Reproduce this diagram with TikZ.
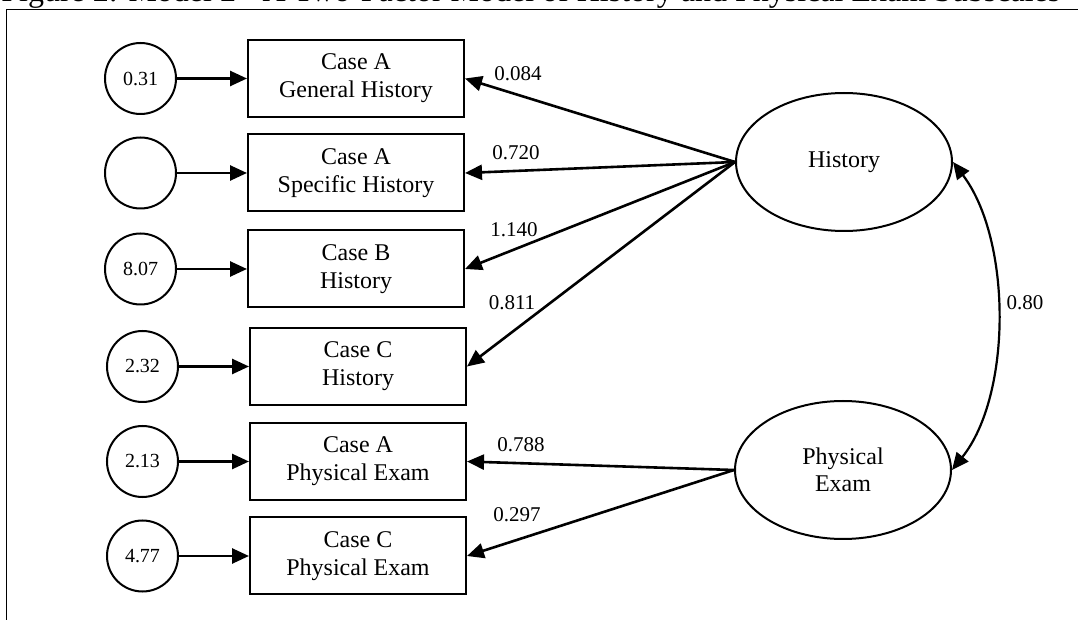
\documentclass[tikz,border=0pt]{standalone}
\usepackage{fontspec}
\setmainfont{Liberation Serif}
\usetikzlibrary{shapes.geometric,arrows.meta,positioning}

\begin{document}
\begin{tikzpicture}[
    x=0.5pt, y=-0.5pt,
    node distance=35pt,
    indbox/.style={rectangle, draw, line width=1pt, minimum width=108pt,
                   minimum height=38.5pt, align=center,
                   font=\fontsize{12}{14}\selectfont},
    errc/.style={circle, draw, line width=1pt, minimum size=35.5pt,
                 inner sep=0pt, font=\fontsize{10}{12}\selectfont},
    factor/.style={ellipse, draw, line width=1pt, minimum width=108pt,
                   minimum height=69pt, align=center,
                   font=\fontsize{12}{13.5}\selectfont},
    load/.style={line width=1.3pt, -{Triangle[length=8.5pt,width=7.5pt]}},
    cov/.style={line width=1.1pt, {Triangle[length=8.5pt,width=7.5pt]}-{Triangle[length=8.5pt,width=7.5pt]}},
    coef/.style={font=\fontsize{10.5}{12}\selectfont, inner sep=1pt},
]

\useasboundingbox (0,0) rectangle (1078,620);

\node[anchor=base west, inner sep=0pt, font=\fontsize{16}{18}\selectfont] (title) at (1,2)
    {Figure 2: Model 2 - A Two-Factor Model of History and Physical Exam Subscales};
\coordinate (frtop) at (1078,10);
\coordinate (frleft) at (6,620);
\draw[line width=0.5pt] (frtop) -- (frtop -| frleft) -- (frleft);

\node[indbox] (cagh) at (356,78.5) {Case A\\General History};
\node[indbox] (cash) at (356,173) {Case A\\Specific History};
\node[indbox] (cbh) at (356,269) {Case B\\History};
\node[indbox] (cch) at (358,366.5) {Case C\\History};
\node[indbox] (cape) at (358,461.5) {Case A\\Physical Exam};
\node[indbox] (ccpe) at (358,556) {Case C\\Physical Exam};

\node[errc, left=of cagh] (e1) {0.31};
\node[errc, left=of cash] (e2) {};
\node[errc, left=of cbh] (e3) {8.07};
\node[errc, left=of cch] (e4) {2.32};
\node[errc, left=of cape] (e5) {2.13};
\node[errc, left=of ccpe] (e6) {4.77};

\draw[load] (e1) -- (cagh);
\draw[load] (e2) -- (cash);
\draw[load] (e3) -- (cbh);
\draw[load] (e4) -- (cch);
\draw[load] (e5) -- (cape);
\draw[load] (e6) -- (ccpe);

\node[factor] (hist) at (844,162) {History};
\node[factor] (pexam) at (843,470) {Physical\\Exam};

\draw[load] (hist.west) -- (cagh.east);
\draw[load] (hist.west) -- (cash.east);
\draw[load] (hist.west) -- (cbh.east);
\draw[load] (hist.west) -- (cch.east);
\draw[load] (pexam.west) -- (cape.east);
\draw[load] (pexam.west) -- (ccpe.east);

\node[coef] (w1) at (518,74) {0.084};
\node[coef] (w2) at (516,153) {0.720};
\node[coef] (w3) at (514,230) {1.140};
\node[coef] (w4) at (512,303) {0.811};
\node[coef] (w5) at (521,445) {0.788};
\node[coef] (w6) at (517,515) {0.297};

\draw[cov] (hist.east) .. controls (1012,240) and (1012,395) .. (pexam.east);
\node[coef] (r) at (1025,303) {0.80};

\end{tikzpicture}
\end{document}
